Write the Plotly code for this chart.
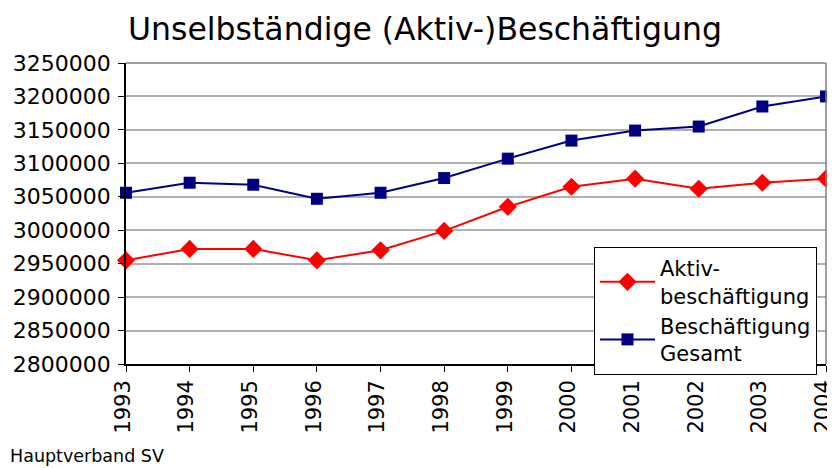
import plotly.graph_objects as go

years = [1993, 1994, 1995, 1996, 1997, 1998, 1999, 2000, 2001, 2002, 2003, 2004]
aktiv = [2955000, 2972000, 2972000, 2955000, 2970000, 2999000, 3035000, 3065000, 3077000, 3062000, 3071000, 3077000]
gesamt = [3056000, 3071000, 3068000, 3047000, 3056000, 3078000, 3107000, 3134000, 3149000, 3155000, 3185000, 3200000]
y_ticks = [2800000, 2850000, 2900000, 2950000, 3000000, 3050000, 3100000, 3150000, 3200000, 3250000]

FONT = "DejaVu Sans, Liberation Sans, Arial, sans-serif"

# page body has an 8px margin; figure coordinates are page coordinates minus 8
OFF = 8
W, H = 835 - OFF, 468 - OFF
L, R, T, B = 126 - OFF, 835 - 826, 63 - OFF, 468 - 364
PW, PH = W - L - R, H - T - B

fig = go.Figure()
fig.add_trace(go.Scatter(
    x=years, y=aktiv, mode="lines+markers", name="Aktiv-<br>beschäftigung",
    line=dict(color="#ff0000", width=2),
    marker=dict(symbol="diamond", size=14, color="#ff0000"),
    cliponaxis=False,
))
fig.add_trace(go.Scatter(
    x=years, y=gesamt, mode="lines+markers", name="Beschäftigung<br>Gesamt",
    line=dict(color="#000080", width=2),
    marker=dict(symbol="square", size=12, color="#000080"),
    cliponaxis=False,
))

fig.update_layout(
    width=W, height=H,
    margin=dict(l=L, r=R, t=T, b=B, autoexpand=False),
    paper_bgcolor="white", plot_bgcolor="white",
    font=dict(family=FONT, color="black", size=20),
    title=dict(text="Unselbständige (Aktiv-)Beschäftigung", x=(425 - OFF) / W, xanchor="center",
               y=1 - (29 - OFF) / H, yanchor="middle", font=dict(size=31.5, family=FONT)),
    showlegend=True,
    legend=dict(x=(594 - 126) / PW, y=(364 - 247) / PH, xanchor="left", yanchor="top",
                bordercolor="black", borderwidth=1, bgcolor="white",
                font=dict(size=21, family=FONT), tracegroupgap=0,
                itemwidth=55),
    annotations=[dict(text="Hauptverband SV", xref="paper", yref="paper",
                      x=-(126 - 8) / PW, y=-(456 - 364) / PH, xanchor="left", yanchor="middle",
                      showarrow=False, font=dict(size=17.5, family=FONT))],
)
fig.update_xaxes(
    range=[1993, 2004], tickmode="array", tickvals=years, ticktext=[str(y) for y in years],
    tickangle=-90, showgrid=False, showline=True, linecolor="black", linewidth=1.5,
    ticks="outside", ticklen=6, tickcolor="black", automargin=False,
    ticklabeloverflow="allow", ticklabelshift=-3,
    tickfont=dict(size=21, family=FONT), zeroline=False,
)
fig.update_yaxes(
    range=[2800000, 3250000], tickmode="array", tickvals=y_ticks,
    ticktext=[str(v) for v in y_ticks],
    showgrid=True, gridcolor="#b0b0b0", gridwidth=1.5,
    showline=True, linecolor="black", linewidth=1.5,
    ticks="outside", ticklen=6, tickcolor="black", automargin=False,
    ticklabelstandoff=3,
    tickfont=dict(size=22, family=FONT), zeroline=False,
)
fig.add_shape(type="line", xref="paper", yref="paper", x0=0, x1=1, y0=1, y1=1,
              line=dict(color="#808080", width=1.5))
fig.add_shape(type="line", xref="paper", yref="paper", x0=1, x1=1, y0=0, y1=1,
              line=dict(color="#808080", width=1.5))

fig.write_html("out.html")
